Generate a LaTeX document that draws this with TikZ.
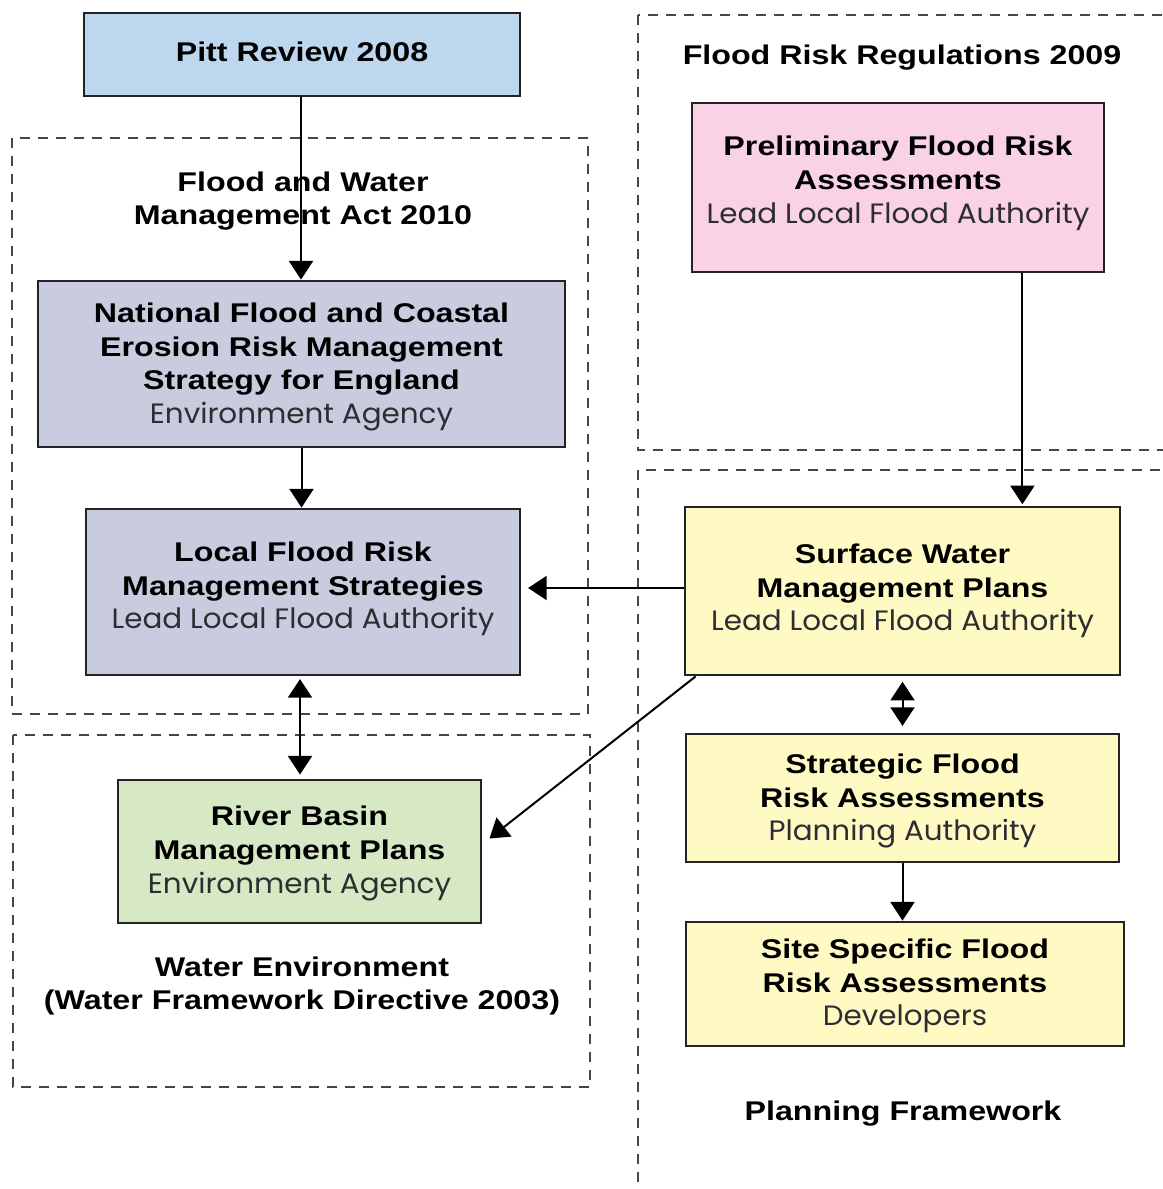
\documentclass[tikz,border=0pt]{standalone}
\usepackage{fontspec}
\usetikzlibrary{arrows.meta,calc}
\newfontfamily\hdfont[FakeStretch=1.19]{Liberation Sans}
\newfontfamily\subfont[FakeStretch=1.05]{Poppins}

\definecolor{pittblue}{RGB}{189,215,238}
\definecolor{envgrey}{RGB}{201,203,223}
\definecolor{rbgreen}{RGB}{215,232,196}
\definecolor{regpink}{RGB}{249,210,230}
\definecolor{planyellow}{RGB}{255,249,196}
\definecolor{edge}{RGB}{35,35,35}
\definecolor{dashgrey}{RGB}{70,70,70}
\definecolor{subtext}{RGB}{45,45,50}

\newcommand\who[1]{{\subfont\mdseries\fontsize{21pt}{25.3pt}\selectfont\color{subtext}#1}}

\begin{document}
\begin{tikzpicture}[x=0.75pt,y=-0.75pt,
  txt/.style={font=\hdfont\bfseries\fontsize{20.3pt}{25.3pt}\selectfont,align=center,text=black},
  docbox/.style={draw=edge,line width=2.1pt,inner sep=0pt,rectangle},
  frame/.style={draw=dashgrey,line width=1.5pt,dash pattern=on 7.5pt off 6pt},
  link/.style={line width=1.5pt,-{Triangle[width=18pt,length=14pt]}},
  link2/.style={line width=1.5pt,{Triangle[width=18pt,length=14pt]}-{Triangle[width=18pt,length=14pt]}}
]
\useasboundingbox (0,0) rectangle (1163,1189);

% dashed framework areas
\draw[frame] (12,138) rectangle (588,714);
\draw[frame] (13,735) rectangle (590,1087);
\draw[frame] (638,15) rectangle (1185,450);
\draw[frame] (638,470) rectangle (1185,1210);

% area titles
\node[txt] (fwma) at (303,201) {Flood and Water\\Management Act 2010};
\node[txt] (frr) at (902,58) {Flood Risk Regulations 2009};
\node[txt] (wfd) at (302,986) {Water Environment\\(Water Framework Directive 2003)};
\node[txt] (pf) at (903,1114) {Planning Framework};

% document boxes
\node[docbox,fill=pittblue,minimum width=327pt,minimum height=62.25pt] (pitt) at (302,54.5) {};
\node[docbox,fill=envgrey,minimum width=395.25pt,minimum height=124.5pt] (nfc) at (301.5,364) {};
\node[docbox,fill=envgrey,minimum width=325.5pt,minimum height=124.5pt] (lfrms) at (303,592) {};
\node[docbox,fill=rbgreen,minimum width=272.25pt,minimum height=107.25pt] (rbmp) at (299.5,851.5) {};
\node[docbox,fill=regpink,minimum width=309pt,minimum height=126.75pt] (pfra) at (898,187.5) {};
\node[docbox,fill=planyellow,minimum width=326.25pt,minimum height=126pt] (swmp) at (902.5,591) {};
\node[docbox,fill=planyellow,minimum width=324.75pt,minimum height=96pt] (sfra) at (902.5,798) {};
\node[docbox,fill=planyellow,minimum width=328.5pt,minimum height=93pt] (ssfra) at (905,984) {};

% document titles and owners
\node[txt] (pitt-t) at ($(pitt)+(0,-3)$) {Pitt Review 2008};
\node[txt] (nfc-t) at ($(nfc)+(0,3)$)
  {National Flood and Coastal\\Erosion Risk Management\\Strategy for England\\\who{Environment Agency}};
\node[txt] (lfrms-t) at ($(lfrms)+(0,-3)$)
  {Local Flood Risk\\Management Strategies\\\who{Lead Local Flood Authority}};
\node[txt] (rbmp-t) at ($(rbmp)+(0,2)$)
  {River Basin\\Management Plans\\\who{Environment Agency}};
\node[txt] (pfra-t) at ($(pfra)+(0,-4)$)
  {Preliminary Flood Risk\\Assessments\\\who{Lead Local Flood Authority}};
\node[txt] (swmp-t) at (swmp)
  {Surface Water\\Management Plans\\\who{Lead Local Flood Authority}};
\node[txt] (sfra-t) at ($(sfra)+(0,3)$)
  {Strategic Flood\\Risk Assessments\\\who{Planning Authority}};
\node[txt] (ssfra-t) at ($(ssfra)+(0,2)$)
  {Site Specific Flood\\Risk Assessments\\\who{Developers}};

% connector end points
\coordinate (pitto) at ($(pitt.south)+(-1,0)$);
\coordinate (lfro) at ($(lfrms.south)+(-3,0)$);
\coordinate (pfrao) at ($(pfra.south east)+(-83,0)$);
\coordinate (swmpo) at ($(swmp.south west)+(12,0)$);
\coordinate (rbmpi) at ($(rbmp.east)+(7,-13)$);

% connectors
\draw[link] (pitto) -- (pitto |- nfc.north);
\draw[link] (nfc.south) -- (nfc.south |- lfrms.north);
\draw[link2,shorten <=2pt,shorten >=3pt] (lfro) -- (lfro |- rbmp.north);
\draw[link,shorten >=1pt] (pfrao) -- (pfrao |- swmp.north);
\draw[link,shorten >=5pt] ($(swmp.west)+(0,-3)$) -- ($(swmp.west -| lfrms.east)+(0,-3)$);
\draw[link] (swmpo) -- (rbmpi);
\draw[link2,shorten <=4pt,shorten >=5pt] (swmp.south) -- (swmp.south |- sfra.north);
\draw[link] (sfra.south) -- (sfra.south |- ssfra.north);
\end{tikzpicture}
\end{document}
